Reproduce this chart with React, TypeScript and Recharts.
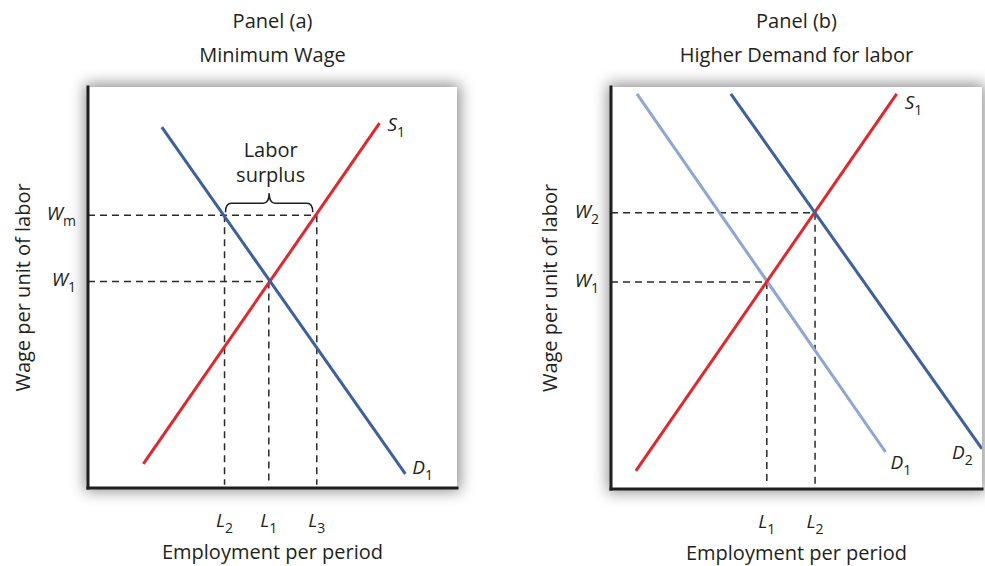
import React from 'react';
import {
  LineChart,
  Line,
  XAxis,
  YAxis,
  ReferenceLine,
  ReferenceDot,
  ReferenceArea,
} from 'recharts';

const FONT = '"Open Sans", "DejaVu Sans", sans-serif';
const TEXT = '#231f20';
const RED = '#e3262b';
const BLUE = '#3d5fa3';
const LIGHT_BLUE = '#8ea6d6';
const DASH = '#2a2a2a';

// ---------- Panel (a): Minimum Wage ----------
const titlesA = ['Panel (a)', 'Minimum Wage'];
const demandA = [
  { q: 20, w: 90 },
  { q: 86, w: 3.5 },
];
const supplyA = [
  { q: 15, w: 6 },
  { q: 79, w: 91 },
];
const wageTicksA = [51.5, 68]; // W1, Wm
const wageSubsA = ['1', 'm'];
const qtyTicksA = [37, 49, 62]; // L2, L1, L3
const qtySubsA = ['2', '1', '3'];
const surplusLines = ['Labor', 'surplus'];

// ---------- Panel (b): Higher Demand for labor ----------
const titlesB = ['Panel (b)', 'Higher Demand for labor'];
const demand1B = [
  { q: 7, w: 98.3 },
  { q: 74, w: 9.2 },
];
const demand2B = [
  { q: 32.3, w: 98.3 },
  { q: 100, w: 10 },
];
const supplyB = [
  { q: 6.7, w: 4.5 },
  { q: 77, w: 98.3 },
];
const wageTicksB = [51.5, 68.7]; // W1, W2
const wageSubsB = ['1', '2'];
const qtyTicksB = [42, 55]; // L1, L2
const qtySubsB = ['1', '2'];

const xLabel = 'Employment per period';
const yLabel = 'Wage per unit of labor';

type SubProps = { x: number; y: number; main: string; sub: string; anchor: 'start' | 'middle' | 'end' };
const SubText = ({ x, y, main, sub, anchor }: SubProps) => (
  <text x={x} y={y} textAnchor={anchor} fontFamily={FONT} fontSize={19} fill={TEXT}>
    <tspan fontStyle="italic">{main}</tspan>
    <tspan fontSize={14} dy={6}>
      {sub}
    </tspan>
  </text>
);

const makeXTick = (vals: number[], subs: string[]) => (props: any) => {
  const { x, y, payload } = props;
  const i = vals.indexOf(payload.value);
  return <SubText x={x} y={y + 31} main="L" sub={subs[i]} anchor="middle" />;
};

const makeYTick = (vals: number[], subs: string[]) => (props: any) => {
  const { x, y, payload } = props;
  const i = vals.indexOf(payload.value);
  return <SubText x={x - 4} y={y + 5} main="W" sub={subs[i]} anchor="end" />;
};

const curveLabel = (main: string, sub: string, dx: number, dy: number) => (props: any) => {
  const vb = props.viewBox || {};
  const cx = (vb.x ?? 0) + (vb.width ?? 0) / 2;
  const cy = (vb.y ?? 0) + (vb.height ?? 0) / 2;
  return <SubText x={cx + dx} y={cy + dy} main={main} sub={sub} anchor="start" />;
};

const surplusLabel = (props: any) => {
  const vb = props.viewBox || {};
  const cx = (vb.x ?? 0) + (vb.width ?? 0) / 2;
  const cy = (vb.y ?? 0) + (vb.height ?? 0) / 2;
  return (
    <text x={cx} y={cy} textAnchor="middle" fontFamily={FONT} fontSize={20} fill={TEXT}>
      <tspan x={cx} dy={-58}>
        {surplusLines[0]}
      </tspan>
      <tspan x={cx} dy={25}>
        {surplusLines[1]}
      </tspan>
    </text>
  );
};

const Brace = (props: any) => {
  const { x, y, width, height } = props;
  const x0 = x + 1;
  const x1 = x + width - 4;
  const bottom = y + height;
  const yb = bottom - 3;
  const ym = bottom - 12;
  const yt = bottom - 22;
  const xm = (x0 + x1) / 2;
  const r = 6;
  const d = `M ${x0} ${yb} Q ${x0} ${ym} ${x0 + r} ${ym} L ${xm - r} ${ym} Q ${xm} ${ym} ${xm} ${yt} Q ${xm} ${ym} ${xm + r} ${ym} L ${x1 - r} ${ym} Q ${x1} ${ym} ${x1} ${yb}`;
  return <path d={d} fill="none" stroke={TEXT} strokeWidth={1.6} />;
};

const yAxisLabel = (bx: number) => (props: any) => {
  const vb = props.viewBox || {};
  const cy = (vb.y ?? 0) + (vb.height ?? 0) / 2;
  return (
    <text
      x={bx}
      y={cy}
      transform={`rotate(-90 ${bx} ${cy})`}
      textAnchor="middle"
      fontFamily={FONT}
      fontSize={20}
      fill={TEXT}
    >
      {yLabel}
    </text>
  );
};

const xAxisLabel = (props: any) => {
  const vb = props.viewBox || {};
  const cx = (vb.x ?? 0) + (vb.width ?? 0) / 2;
  const by = (vb.y ?? 0) + 71;
  return (
    <text x={cx} y={by} textAnchor="middle" fontFamily={FONT} fontSize={20} fill={TEXT}>
      {xLabel}
    </text>
  );
};

const axisLineStyle = { stroke: '#1e1e1e', strokeWidth: 3, strokeLinecap: 'square' as const };
const dashProps = { stroke: DASH, strokeWidth: 1.5, strokeDasharray: '7 5', ifOverflow: 'visible' as const };

const Title = ({ text, left, width, top }: { text: string; left: number; width: number; top: number }) => (
  <div
    style={{
      position: 'absolute',
      left,
      top,
      width,
      textAlign: 'center',
      fontFamily: FONT,
      fontSize: 20,
      lineHeight: '24px',
      color: TEXT,
      whiteSpace: 'nowrap',
    }}
  >
    {text}
  </div>
);

const ShadowBox = ({ left, top, width, height }: { left: number; top: number; width: number; height: number }) => (
  <div
    style={{
      position: 'absolute',
      left,
      top,
      width,
      height,
      background: '#fff',
      boxShadow: '0 0 14px 3px rgba(0,0,0,0.45)',
    }}
  />
);

export default function App() {
  const [w1A, wmA] = wageTicksA;
  const [l2A, l1A, l3A] = qtyTicksA;
  const [w1B, w2B] = wageTicksB;
  const [l1B, l2B] = qtyTicksB;

  return (
    <div
      style={{
        position: 'absolute',
        left: 0,
        top: 0,
        width: 985,
        height: 566,
        background: '#fff',
        overflow: 'hidden',
      }}
    >
      {/* Panel (a) */}
      <Title text={titlesA[0]} left={88} width={369} top={9} />
      <Title text={titlesA[1]} left={88} width={369} top={43} />
      <ShadowBox left={88} top={87} width={369} height={401} />
      <div style={{ position: 'absolute', left: 0, top: 0 }}>
        <LineChart width={490} height={566} margin={{ top: 87, right: 33, bottom: 0, left: 0 }}>
          <XAxis
            type="number"
            dataKey="q"
            domain={[0, 100]}
            ticks={qtyTicksA}
            tick={makeXTick(qtyTicksA, qtySubsA)}
            tickLine={false}
            axisLine={axisLineStyle}
            height={78}
            allowDataOverflow
            label={xAxisLabel}
          />
          <YAxis
            type="number"
            dataKey="w"
            domain={[0, 100]}
            ticks={wageTicksA}
            tick={makeYTick(wageTicksA, wageSubsA)}
            tickLine={false}
            axisLine={axisLineStyle}
            width={88}
            allowDataOverflow
            label={yAxisLabel(30)}
          />
          <ReferenceLine segment={[{ x: 0, y: wmA }, { x: l3A, y: wmA }]} {...dashProps} />
          <ReferenceLine segment={[{ x: 0, y: w1A }, { x: l1A, y: w1A }]} {...dashProps} />
          <ReferenceLine segment={[{ x: l2A, y: wmA }, { x: l2A, y: 0.8 }]} {...dashProps} />
          <ReferenceLine segment={[{ x: l1A, y: w1A }, { x: l1A, y: 0.8 }]} {...dashProps} />
          <ReferenceLine segment={[{ x: l3A, y: wmA }, { x: l3A, y: 0.8 }]} {...dashProps} />
          <ReferenceArea x1={l2A} x2={l3A} y1={wmA} y2={wmA + 8} shape={Brace} ifOverflow="visible" />
          <ReferenceDot x={(l2A + l3A) / 2} y={wmA} r={0} fill="none" stroke="none" label={surplusLabel} />
          <Line
            data={supplyA}
            dataKey="w"
            type="linear"
            stroke={RED}
            strokeWidth={3}
            dot={false}
            activeDot={false}
            isAnimationActive={false}
          />
          <Line
            data={demandA}
            dataKey="w"
            type="linear"
            stroke={BLUE}
            strokeWidth={3}
            dot={false}
            activeDot={false}
            isAnimationActive={false}
          />
          <ReferenceDot
            x={supplyA[1].q}
            y={supplyA[1].w}
            r={0}
            fill="none"
            stroke="none"
            label={curveLabel('S', '1', 8, 8)}
          />
          <ReferenceDot
            x={demandA[1].q}
            y={demandA[1].w}
            r={0}
            fill="none"
            stroke="none"
            label={curveLabel('D', '1', 7, 0)}
          />
        </LineChart>
      </div>

      {/* Panel (b) */}
      <Title text={titlesB[0]} left={611} width={371} top={9} />
      <Title text={titlesB[1]} left={611} width={371} top={43} />
      <ShadowBox left={611} top={87} width={371} height={402} />
      <div style={{ position: 'absolute', left: 490, top: 0 }}>
        <LineChart width={495} height={566} margin={{ top: 87, right: 3, bottom: 0, left: 0 }}>
          <XAxis
            type="number"
            dataKey="q"
            domain={[0, 100]}
            ticks={qtyTicksB}
            tick={makeXTick(qtyTicksB, qtySubsB)}
            tickLine={false}
            axisLine={axisLineStyle}
            height={77}
            allowDataOverflow
            label={xAxisLabel}
          />
          <YAxis
            type="number"
            dataKey="w"
            domain={[0, 100]}
            ticks={wageTicksB}
            tick={makeYTick(wageTicksB, wageSubsB)}
            tickLine={false}
            axisLine={axisLineStyle}
            width={121}
            allowDataOverflow
            label={yAxisLabel(67)}
          />
          <ReferenceLine segment={[{ x: 0, y: w2B }, { x: l2B, y: w2B }]} {...dashProps} />
          <ReferenceLine segment={[{ x: 0, y: w1B }, { x: l1B, y: w1B }]} {...dashProps} />
          <ReferenceLine segment={[{ x: l1B, y: w1B }, { x: l1B, y: 0.8 }]} {...dashProps} />
          <ReferenceLine segment={[{ x: l2B, y: w2B }, { x: l2B, y: 0.8 }]} {...dashProps} />
          <Line
            data={demand1B}
            dataKey="w"
            type="linear"
            stroke={LIGHT_BLUE}
            strokeWidth={3}
            dot={false}
            activeDot={false}
            isAnimationActive={false}
          />
          <Line
            data={supplyB}
            dataKey="w"
            type="linear"
            stroke={RED}
            strokeWidth={3}
            dot={false}
            activeDot={false}
            isAnimationActive={false}
          />
          <Line
            data={demand2B}
            dataKey="w"
            type="linear"
            stroke={BLUE}
            strokeWidth={3}
            dot={false}
            activeDot={false}
            isAnimationActive={false}
          />
          <ReferenceDot
            x={supplyB[1].q}
            y={supplyB[1].w}
            r={0}
            fill="none"
            stroke="none"
            label={curveLabel('S', '1', 8, 15)}
          />
          <ReferenceDot
            x={demand1B[1].q}
            y={demand1B[1].w}
            r={0}
            fill="none"
            stroke="none"
            label={curveLabel('D', '1', 5, 17)}
          />
          <ReferenceDot
            x={demand2B[1].q}
            y={demand2B[1].w}
            r={0}
            fill="none"
            stroke="none"
            ifOverflow="visible"
            label={curveLabel('D', '2', -30, 10)}
          />
        </LineChart>
      </div>
    </div>
  );
}
